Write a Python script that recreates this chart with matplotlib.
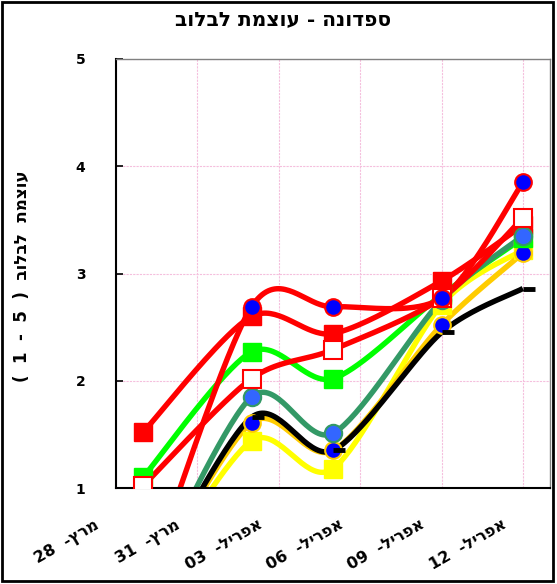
import numpy as np
import matplotlib
matplotlib.use('Agg')
import matplotlib.pyplot as plt
import matplotlib.dates as mdates
import matplotlib.transforms as mtransforms
from matplotlib.patches import Rectangle
from matplotlib.path import Path
import pandas as pd

plt.rcParams['font.family'] = ['DejaVu Sans']

# נתונים (טקסט עברי כתוב בסדר ויזואלי, כי matplotlib לא עושה bidi)
dates = ['2010-03-29', '2010-04-02', '2010-04-05', '2010-04-09', '2010-04-12']
tick_dates = ['2010-03-28', '2010-03-31', '2010-04-03', '2010-04-06', '2010-04-09', '2010-04-12']
tick_labels = ['28  -ץרמ', '31  -ץרמ', '03  -לירפא', '06  -לירפא', '09  -לירפא', '12  -לירפא']

yellow_sq = [0, 1.44, 1.18, 2.71, 3.22]
orange_circ = [0, 1.61, 1.35, 2.52, 3.19]
black_dash = [0, 1.66, 1.35, 2.45, 2.86]
lime_sq = [1.10, 2.27, 2.02, 2.80, 3.33]
red_sq = [1.52, 2.60, 2.44, 2.93, 3.45]
seagreen_circ = [0, 1.85, 1.51, 2.75, 3.35]
red_hollow = [1.02, 2.02, 2.29, 2.77, 3.52]
red_circ = [0, 2.69, 2.69, 2.77, 3.85]

title = 'בולבל תמצוע - הנודפס'
ylabel = '(  1  -  5  )  בולבל  תמצוע'


def smooth(x, y, n=40, f=1 / 7):
    # spline בסגנון אקסל (Catmull-Rom -> Bezier)
    x = np.asarray(x, float)
    y = np.asarray(y, float)
    px = np.concatenate([[x[0]], x, [x[-1]]])
    py = np.concatenate([[y[0]], y, [y[-1]]])
    xs, ys = [], []
    t = np.linspace(0, 1, n)
    for i in range(len(x) - 1):
        p0 = np.array([px[i + 1], py[i + 1]])
        p3 = np.array([px[i + 2], py[i + 2]])
        c1 = p0 + (p3 - np.array([px[i], py[i]])) * f
        c2 = p3 - (np.array([px[i + 3], py[i + 3]]) - p0) * f
        b = ((1 - t) ** 3)[:, None] * p0 + (3 * (1 - t) ** 2 * t)[:, None] * c1 \
            + (3 * (1 - t) * t ** 2)[:, None] * c2 + (t ** 3)[:, None] * p3
        xs.extend(b[:, 0])
        ys.extend(b[:, 1])
    return np.array(xs), np.array(ys)


dash = Path([(0, 0), (1, 0)])

fig = plt.figure(figsize=(5.57, 5.84), dpi=100)
ax = fig.add_axes([116 / 557, 96 / 584, 434 / 557, 429 / 584])

xd = mdates.date2num(pd.to_datetime(dates))

series = [
    (yellow_sq, '#FFFF00', dict(marker='s', mfc='#FFFF00', mec='#FFFF00', ms=12.5)),
    (orange_circ, '#FFCC00', dict(marker='o', mfc='#0000FF', mec='#FFCC00', ms=12, mew=1.5)),
    (black_dash, '#000000', dict(marker=dash, mfc='none', mec='#000000', ms=17, mew=3.5)),
    (lime_sq, '#00FF00', dict(marker='s', mfc='#00FF00', mec='#00FF00', ms=12.5)),
    (red_sq, '#FF0000', dict(marker='s', mfc='#FF0000', mec='#FF0000', ms=13)),
    (seagreen_circ, '#339966', dict(marker='o', mfc='#3366FF', mec='#339966', ms=12.5, mew=1.5)),
    (red_hollow, '#FF0000', dict(marker='s', mfc='white', mec='#FF0000', ms=12.5, mew=1.5)),
    (red_circ, '#FF0000', dict(marker='o', mfc='#0000FF', mec='#FF0000', ms=12, mew=1.5)),
]

for i, (vals, col, mk) in enumerate(series):
    sx, sy = smooth(xd, vals)
    ax.plot(sx, sy, color=col, lw=3.9, solid_capstyle='butt', zorder=2 + i * 0.01)
    ax.plot(xd, vals, ls='none', zorder=3 + i * 0.01, **mk)

x0 = mdates.date2num(pd.Timestamp('2010-03-28'))
ax.set_xlim(x0, x0 + 16)
ax.set_ylim(1, 5)

xt = mdates.date2num(pd.to_datetime(tick_dates))
ax.set_xticks(xt)
ax.set_xticklabels([''] * len(xt))
offset = mtransforms.ScaledTranslation(-0.14, -0.29, fig.dpi_scale_trans)
for x, lab in zip(xt, tick_labels):
    ax.text(x, 0, lab, transform=ax.get_xaxis_transform() + offset, rotation=30,
            ha='right', va='top', fontsize=11.5, fontweight='bold', clip_on=False)

ax.set_yticks([1, 2, 3, 4, 5])
ax.set_yticklabels(['1', '2', '3', '4', '5'], fontsize=10, fontweight='bold')

ax.tick_params(axis='y', direction='in', length=5, width=1.2, pad=22)
ax.tick_params(axis='x', length=0)

ax.grid(True, color='#F5BFDD', lw=0.8, ls=(0, (2, 1)), zorder=0)
ax.set_axisbelow(True)

for s in ['left', 'bottom']:
    ax.spines[s].set_color('black')
    ax.spines[s].set_linewidth(1.5)
for s in ['top', 'right']:
    ax.spines[s].set_color('#808080')
    ax.spines[s].set_linewidth(1)

fig.text(283 / 557, 1 - 20 / 584, title, ha='center', va='center', fontsize=14.5,
         fontweight='bold')
fig.text(22 / 557, 1 - 276 / 584, ylabel, ha='center', va='center', rotation=90,
         fontsize=12, fontweight='bold')

fig.patches.append(Rectangle((2 / 557, 3 / 584), 551 / 557, 579 / 584, transform=fig.transFigure,
                             fill=False, edgecolor='black', lw=2))

fig.savefig('out.png', dpi=100)
